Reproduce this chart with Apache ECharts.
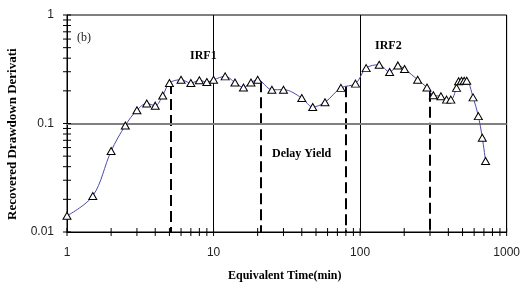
<!DOCTYPE html>
<html>
<head>
<meta charset="utf-8">
<script src="https://cdn.jsdelivr.net/npm/echarts@6/dist/echarts.min.js"></script>
<style>
  html, body { margin: 0; padding: 0; background: #fff; }
  #chart { width: 523px; height: 291px; }
</style>
</head>
<body>
<div id="chart"></div>
<script>
// equivalent time (min) and recovered drawdown derivative
const timeVals = [1, 1.5, 2, 2.5, 3, 3.5, 4, 4.5, 5, 6, 7, 8, 9, 10, 12, 14, 16, 18, 20, 25, 30, 40, 47.5, 57.6, 74, 93,
  110, 135, 159, 181, 201, 247, 286, 316, 356, 389, 416, 455, 470, 492, 513, 534, 590, 641, 682, 718]
const derivVals = [0.0141, 0.0215, 0.0557, 0.096, 0.1325, 0.153, 0.146, 0.181, 0.236, 0.253, 0.236, 0.25, 0.241, 0.253,
  0.272, 0.239, 0.215, 0.239, 0.253, 0.205, 0.205, 0.172, 0.142, 0.157, 0.213, 0.233,
  0.324, 0.348, 0.298, 0.343, 0.318, 0.253, 0.215, 0.182, 0.178, 0.166, 0.166, 0.213, 0.245, 0.248, 0.248, 0.248,
  0.174, 0.117, 0.074, 0.0451]

// vertical dashed separators (x, top y)
const dropX = [5.1, 21, 80, 300]
const dropTop = [0.236, 0.245, 0.22, 0.2]

// axis ticks
const xTickVals = [1, 2, 3, 4, 5, 6, 7, 8, 9, 10, 20, 30, 40, 50, 60, 70, 80, 90, 100,
  200, 300, 400, 500, 600, 700, 800, 900, 1000]
const yTickVals = [0.01, 0.02, 0.03, 0.04, 0.05, 0.06, 0.07, 0.08, 0.09, 0.1,
  0.2, 0.3, 0.4, 0.5, 0.6, 0.7, 0.8, 0.9, 1]

const xMin = 1, xMax = 1000, yMin = 0.01, yMax = 1

const seriesData = timeVals.map((t, i) => [t, derivVals[i]])
const tickData = xTickVals.map(v => [v, yMin, 0]).concat(yTickVals.map(v => [xMin, v, 1]))
const dropLines = dropX.map((x, i) => [{ coord: [x, dropTop[i]] }, { coord: [x, yMin] }])

const serif = '"Liberation Serif", "Times New Roman", serif'
const sans = '"Liberation Sans", Arial, sans-serif'

const fmt = v => String(parseFloat(Number(v).toPrecision(6)))

let chart = echarts.init(document.getElementById('chart'))

let option = {
  animation: false,
  grid: {
    left: 67, right: 14, top: 15, bottom: 59,
    show: true, borderColor: '#000', borderWidth: 1
  },
  xAxis: {
    type: 'log', logBase: 10, min: xMin, max: xMax,
    axisLine: { lineStyle: { color: '#000', width: 1 } },
    axisTick: { show: false },
    splitLine: { show: true, lineStyle: { color: '#000', width: 1 } },
    axisLabel: { color: '#222', fontFamily: sans, fontSize: 12, margin: 15, formatter: fmt }
  },
  yAxis: {
    type: 'log', logBase: 10, min: yMin, max: yMax,
    axisLine: { lineStyle: { color: '#000', width: 1 } },
    axisTick: { show: false },
    splitLine: { show: false },
    axisLabel: { color: '#222', fontFamily: sans, fontSize: 12, margin: 13, formatter: fmt }
  },
  graphic: [
    { type: 'text', left: 77, top: 32, style: { text: '(b)', font: '12px ' + serif, fill: '#222' } },
    { type: 'text', left: 190, top: 50, style: { text: 'IRF1', font: 'bold 12px ' + serif, fill: '#000' } },
    { type: 'text', left: 375, top: 40, style: { text: 'IRF2', font: 'bold 12px ' + serif, fill: '#000' } },
    { type: 'text', left: 272, top: 148, style: { text: 'Delay Yield', font: 'bold 12px ' + serif, fill: '#000' } },
    { type: 'text', x: 228, y: 270, style: { text: 'Equivalent Time(min)', font: 'bold 12px ' + serif, fill: '#000' } },
    {
      type: 'text', x: 6, y: 220, rotation: Math.PI / 2,
      style: { text: 'Recovered Drawdown Derivati', font: 'bold 13px ' + serif, fill: '#000' }
    }
  ],
  series: [
    {
      type: 'line',
      data: seriesData,
      smooth: 0.35,
      symbol: 'triangle',
      symbolSize: [8, 7],
      lineStyle: { color: '#4b4bab', width: 1 },
      itemStyle: { color: '#fff', borderColor: '#000', borderWidth: 1 },
      z: 5,
      markLine: {
        silent: true,
        symbol: 'none',
        label: { show: false },
        lineStyle: { color: '#000', width: 2, type: [11, 5] },
        data: dropLines
      }
    },
    {
      // gray gridline at 0.1
      type: 'line',
      data: [],
      markLine: {
        silent: true,
        symbol: 'none',
        label: { show: false },
        lineStyle: { color: '#808080', width: 2, type: 'solid' },
        data: [{ yAxis: 0.1 }]
      },
      z: 1
    },
    {
      // crossing tick marks on both axes
      type: 'custom',
      clip: false,
      silent: true,
      data: tickData,
      renderItem: function (params, api) {
        let p = api.coord([api.value(0), api.value(1)])
        let horiz = api.value(2) === 1
        return {
          type: 'line',
          shape: horiz
            ? { x1: p[0] - 4, y1: p[1], x2: p[0] + 4, y2: p[1] }
            : { x1: p[0], y1: p[1] - 4, x2: p[0], y2: p[1] + 4 },
          style: { stroke: '#000', lineWidth: 1 }
        }
      },
      z: 6
    }
  ]
}

chart.setOption(option)
</script>
</body>
</html>
